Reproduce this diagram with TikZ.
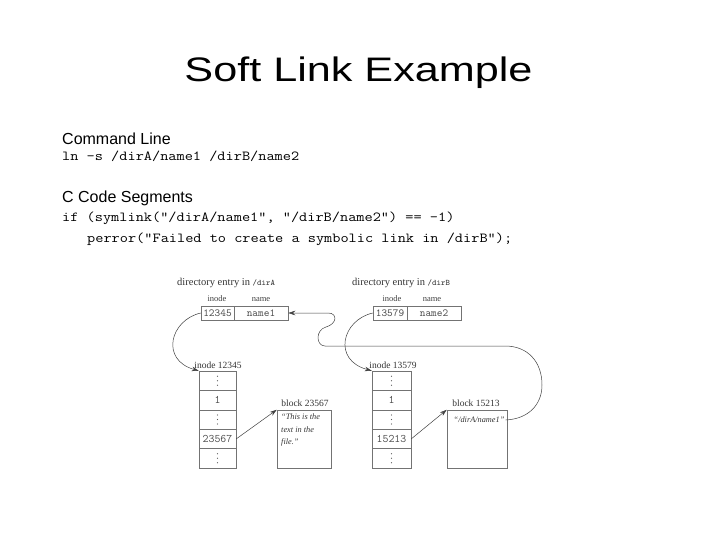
\documentclass[tikz,border=0pt]{standalone}
\usepackage{fontspec}
\setmainfont{Liberation Serif}
\newfontfamily\arialf{Liberation Sans}
\usetikzlibrary{arrows.meta}
\newcommand\mycodetext[1]{\scalebox{1.15}[1]{#1}}
\tikzset{
  txt/.style={anchor=base west, inner sep=0pt, text=black},
  head/.style={txt, font=\arialf\fontsize{16}{16}\selectfont},
  code/.style={txt, font=\ttfamily\fontsize{13.8}{14}\selectfont},
  cell/.style={draw=black!55, line width=0.5pt, minimum height=14pt, inner sep=0pt,
    font=\ttfamily\fontsize{10.8}{11}\selectfont, text=black!70},
  irow/.style={draw=black!55, line width=0.5pt, minimum height=19.4pt, inner sep=0pt,
    font=\ttfamily\fontsize{11.5}{11}\selectfont, text=black!70},
  blk/.style={draw=black!55, line width=0.5pt, minimum height=58pt, inner sep=0pt},
  lbl/.style={anchor=base, inner sep=0pt, text=black!80, font=\fontsize{9.5}{10}\selectfont},
  hdr/.style={anchor=base, inner sep=0pt, text=black!75, font=\fontsize{8.5}{9}\selectfont},
  conn/.style={draw=black!75, line width=0.5pt},
  arr/.style={conn, -{Stealth[length=7pt,width=4.5pt]}},
  itx/.style={inner sep=1pt, text=black!80, font=\itshape\fontsize{8.3}{12.5}\selectfont},
  dotc/.style={fill=black!65}
}
\begin{document}
\begin{tikzpicture}[x=1pt,y=-1pt]
\useasboundingbox (0,0) rectangle (720,540);
% title and text
\node[anchor=base, inner sep=0pt, font=\arialf\fontsize{34}{34}\selectfont] (title) at (358.5,82) {\scalebox{1.27}[1]{Soft Link Example}};
\node[head] (cl) at (62,145) {Command Line};
\node[code] (ln) at (62,161) {\mycodetext{ln -s /dirA/name1 /dirB/name2}};
\node[head] (cc) at (62,203) {C Code Segments};
\node[code] (c1) at (62,222) {\mycodetext{if (symlink("/dirA/name1", "/dirB/name2") == -1)}};
\node[code] (c2) at (87,242) {\mycodetext{perror("Failed to create a symbolic link in /dirB");}};
% directory A
\node[txt, text=black!80, font=\fontsize{10.5}{11}\selectfont] (dA) at (177,285) {directory entry in {\ttfamily\fontsize{8.4}{8}\selectfont /dirA}};
\node[hdr] (hAi) at (217,301) {inode};
\node[hdr] (hAn) at (261,301) {name};
\node[cell, minimum width=33pt] (eA1) at (217.5,313) {12345};
\node[cell, minimum width=54pt] (eA2) at (261,313) {name1};
% directory B
\node[txt, text=black!80, font=\fontsize{10.5}{11}\selectfont] (dB) at (352,285) {directory entry in {\ttfamily\fontsize{8.4}{8}\selectfont /dirB}};
\node[hdr] (hBi) at (392,301) {inode};
\node[hdr] (hBn) at (432,301) {name};
\node[cell, minimum width=34pt] (eB1) at (390,313) {13579};
\node[cell, minimum width=54pt] (eB2) at (434,313) {name2};
% inode A
\node[lbl] (lA) at (218,368) {inode 12345};
\node[irow, minimum width=37pt] (iA1) at (217.5,380.7) {};
\node[irow, minimum width=37pt] (iA2) at (217.5,400.1) {1};
\node[irow, minimum width=37pt] (iA3) at (217.5,419.5) {};
\node[irow, minimum width=37pt] (iA4) at (217.5,438.9) {23567};
\node[irow, minimum width=37pt] (iA5) at (217.5,458.3) {};
% inode B
\node[lbl] (lB) at (393,368) {inode 13579};
\node[irow, minimum width=39pt] (iB1) at (391.5,380.7) {};
\node[irow, minimum width=39pt] (iB2) at (391.5,400.1) {1};
\node[irow, minimum width=39pt] (iB3) at (391.5,419.5) {};
\node[irow, minimum width=39pt] (iB4) at (391.5,438.9) {15213};
\node[irow, minimum width=39pt] (iB5) at (391.5,458.3) {};
% vertical ellipsis dots
\foreach \r in {iA1,iA3,iA5,iB1,iB3,iB5}{
  \fill[dotc] ([yshift=-4.5pt]\r.center) circle (0.65);
  \fill[dotc] (\r.center) circle (0.65);
  \fill[dotc] ([yshift=4.5pt]\r.center) circle (0.65);
}
% blocks
\node[lbl] (lbA) at (305,406) {block 23567};
\node[blk, minimum width=54pt] (bA) at (304,439) {};
\node[itx, anchor=north west, align=left] (bAt) at (280,413) {``This is the\\text in the\\file.''};
\node[lbl] (lbB) at (476,406) {block 15213};
\node[blk, minimum width=60pt] (bB) at (477,439) {};
\node[itx] (bBt) at (479,420) {``/dirA/name1''};
% connectors
\draw[arr] (eA1.west) .. controls (170,320) and (160,360) .. (iA1.north west);
\draw[arr] (eB1.west) .. controls (342,320) and (332,360) .. (iB1.north west);
\draw[arr] (iA4.east) -- (bA.north west);
\draw[arr] (iB4.east) -- (bB.north west);
\draw[arr] (bBt.east) .. controls (528,419) and (542,405) .. (542,385)
  .. controls (542,362) and (528,346) .. (505,346) -- (325,346)
  .. controls (316,346) and (315,330) .. (326,327)
  .. controls (337,324) and (338,313) .. (328,313) -- (eA2.east);
\end{tikzpicture}
\end{document}
